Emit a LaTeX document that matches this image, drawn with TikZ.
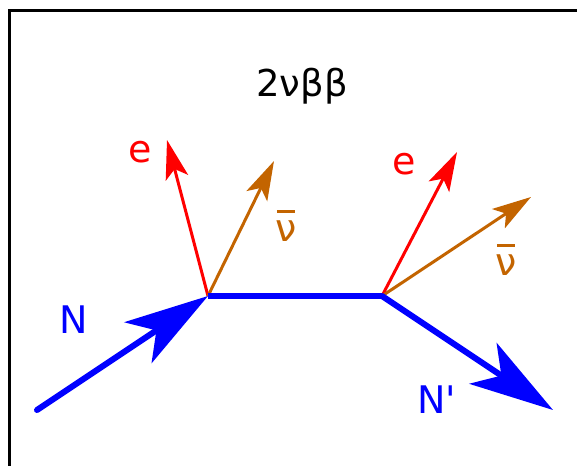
\documentclass[tikz,border=0pt]{standalone}
\usepackage{fontspec}
\setmainfont{DejaVu Sans}
\newfontfamily\dvs{DejaVu Sans}
\usetikzlibrary{arrows.meta}
\definecolor{nuorange}{RGB}{195,100,0}
\newcommand{\nubarsym}{\setbox0\hbox{ν}\rlap{\hbox to \wd0{\hss\rule[\dimexpr\ht0+7pt\relax]{0.85\wd0}{3pt}\hss}}\box0}
\tikzset{
  nucleon/.style={draw=blue, line width=6pt, line cap=round},
  bigtip/.style={-{Stealth[length=84pt, width=49pt, inset=22pt]}},
  smalltip/.style={-{Stealth[length=39pt, width=23pt, inset=9pt]}},
  electron/.style={draw=red, line width=3pt, smalltip},
  neutrino/.style={draw=nuorange, line width=3pt, smalltip},
  lbl/.style={font=\dvs\fontsize{38}{42}\selectfont, inner sep=0pt, anchor=base},
}
\begin{document}
\begin{tikzpicture}[x=1pt, y=-1pt]
\useasboundingbox (0,0) rectangle (577,465);
\begin{scope}
\clip (0,0) rectangle (577,465);
\draw[line width=3pt] (9.5,10.5) rectangle (620,520);
\end{scope}
\coordinate (nin) at (37,410);
\coordinate (v1) at (208,296);
\coordinate (v2) at (382,296);
\coordinate (nout) at (553,410);
\coordinate (e1) at (167,140);
\coordinate (nu1) at (274,161);
\coordinate (e2) at (457,152);
\coordinate (nu2) at (531,197);
\draw[electron] (v1) -- (e1);
\draw[neutrino] (v1) -- (nu1);
\draw[electron] (v2) -- (e2);
\draw[neutrino] (v2) -- (nu2);
\draw[nucleon, bigtip] (nin) -- (v1);
\draw[nucleon, line cap=butt] (v1) -- (v2);
\draw[nucleon, bigtip] (v2) -- (nout);
\node[lbl, text=blue] (nl) at (73.5,333) {N};
\node[lbl, text=blue] (npl) at (437,413) {N'};
\node[lbl, text=red] (el1) at (140,162) {e};
\node[lbl, text=red] (el2) at (404,174) {e};
\node[lbl, text=nuorange] (nub1) at (286,241) {\nubarsym};
\node[lbl, text=nuorange] (nub2) at (506,275) {\nubarsym};
\node[lbl, font=\dvs\fontsize{37}{40}\selectfont] (title) at (302,97) {2νββ};
\end{tikzpicture}
\end{document}
